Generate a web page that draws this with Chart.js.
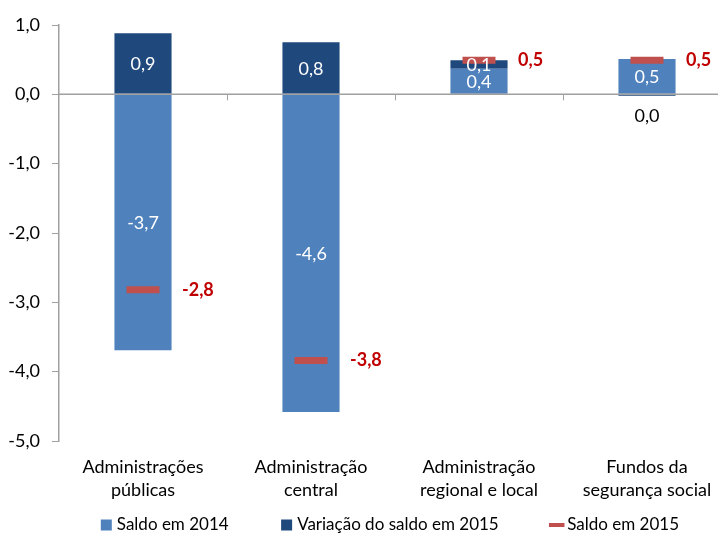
<!DOCTYPE html>
<html>
<head>
<meta charset="utf-8">
<script src="https://cdn.jsdelivr.net/npm/chart.js@4.4.1/dist/chart.umd.min.js"></script>
<style>
  html, body { margin: 0; padding: 0; background: #fff; overflow: hidden; width: 718px; height: 535px; }
  #wrap { position: absolute; left: 0; top: 0; width: 740px; height: 535px; }
</style>
</head>
<body>
<div id="wrap"><canvas id="c"></canvas></div>
<script>
const categories = [
  ["Administrações", "públicas"],
  ["Administração", "central"],
  ["Administração", "regional e local"],
  ["Fundos da", "segurança social"]
];
const saldo2014 = [-3.69, -4.58, 0.37, 0.51];
const variacao2015 = [0.88, 0.75, 0.12, -0.02];
const saldo2015 = [-2.82, -3.84, 0.49, 0.49];
const seriesNames = ["Saldo em 2014", "Variação do saldo em 2015", "Saldo em 2015"];
const yTicks = [1, 0, -1, -2, -3, -4, -5];

const FONT = "Lato, 'Open Sans', sans-serif";
const C_LIGHT = "#4F81BD", C_DARK = "#1F497D", C_RED = "#C0504D", C_AXIS = "#A0A0A0";
const fmt = v => (Math.abs(v) < 0.05 ? 0 : v).toFixed(1).replace(".", ",");

const LEG_PAD = 56, LEG_H = 30, LEG_X0 = 104.3, LEG_CY = 525, LEG_FONT = 17;

const overlay = {
  id: "overlay",
  beforeLayout(chart) {
    const lg = chart.legend;
    if (lg && !lg._patchedFit) {
      const orig = lg.fit.bind(lg);
      lg.fit = function () { orig(); this.height = LEG_H; };
      lg._patchedFit = true;
    }
  },
  afterLayout(chart) {
    const lg = chart.legend;
    if (!lg) return;
    const lw = lg.lineWidths ? lg.lineWidths[0] : 0;
    const cur = (lg.left + LEG_PAD + lg.right - lw) / 2;
    const shift = LEG_X0 - cur;
    lg.left += shift; lg.right += shift;
    lg.top = LEG_CY - LEG_PAD - LEG_FONT / 2;
    lg.bottom = chart.height;
  },
  afterDatasetsDraw(chart) {
    const ctx = chart.ctx, ys = chart.scales.y, ca = chart.chartArea;
    const y0 = ys.getPixelForValue(0);
    ctx.save();
    ctx.strokeStyle = C_AXIS; ctx.lineWidth = 1.5;
    ctx.beginPath(); ctx.moveTo(ca.left, y0); ctx.lineTo(ca.right, y0); ctx.stroke();
    const w = (ca.right - ca.left) / categories.length;
    ctx.lineWidth = 1;
    for (let i = 1; i <= categories.length; i++) {
      const x = Math.round(ca.left + i * w) + 0.5;
      ctx.beginPath(); ctx.moveTo(x, y0); ctx.lineTo(x, y0 + 6); ctx.stroke();
    }
    ctx.font = "18px " + FONT;
    ctx.textAlign = "center"; ctx.textBaseline = "middle";
    [0, 1].forEach(di => {
      const meta = chart.getDatasetMeta(di);
      meta.data.forEach((el, i) => {
        const v = chart.data.datasets[di].data[i];
        if (Math.abs(v) < 0.05) {
          ctx.fillStyle = "#000";
          ctx.fillText(fmt(v), el.x, y0 + 22);
        } else {
          ctx.fillStyle = "#fff";
          ctx.fillText(fmt(v), el.x, (el.y + el.base) / 2 + 1);
        }
      });
    });
    ctx.font = "bold 18px " + FONT;
    ctx.textAlign = "left"; ctx.fillStyle = "#C00000";
    const m = chart.getDatasetMeta(2);
    m.data.forEach((el, i) => {
      ctx.fillText(fmt(saldo2015[i]), el.x + 39, el.y);
    });
    ctx.restore();
  }
};

new Chart(document.getElementById("c"), {
  data: {
    labels: categories,
    datasets: [
      { type: "bar", label: seriesNames[0], data: saldo2014, backgroundColor: C_LIGHT, stack: "s", order: 2 },
      { type: "bar", label: seriesNames[1], data: variacao2015, backgroundColor: C_DARK, stack: "s", order: 2 },
      { type: "line", label: seriesNames[2], data: saldo2015, showLine: false, stack: "m",
        pointStyle: "line", pointRadius: 16.5, pointHoverRadius: 16.5, pointBorderWidth: 7,
        borderColor: C_RED, backgroundColor: C_RED, order: 1 }
    ]
  },
  options: {
    responsive: true,
    maintainAspectRatio: false,
    animation: false,
    events: [],
    layout: { autoPadding: false, padding: { top: 25, bottom: 0, left: 0, right: 9 } },
    datasets: { bar: { categoryPercentage: 1, barPercentage: 0.34 } },
    scales: {
      x: {
        stacked: true,
        grid: { display: false, drawTicks: true, tickLength: 8 },
        border: { display: false },
        ticks: { color: "#000", font: { family: FONT, size: 18, lineHeight: 1.3 }, padding: 6, maxRotation: 0, autoSkip: false },
        afterFit(s) { s.height = 64; s.paddingLeft = 0; s.paddingRight = 0; }
      },
      y: {
        stacked: true,
        min: -5, max: 1,
        afterBuildTicks(s) { s.ticks = yTicks.map(v => ({ value: v })); },
        grid: { drawOnChartArea: false, drawTicks: true, tickLength: 7, color: C_AXIS },
        border: { display: true, color: C_AXIS, width: 1.5 },
        ticks: { color: "#000", font: { family: FONT, size: 18 }, padding: 12, callback: v => fmt(v) },
        afterFit(s) { s.width = 59; s.paddingTop = 0; s.paddingBottom = 0; }
      }
    },
    plugins: {
      tooltip: { enabled: false },
      legend: {
        position: "bottom",
        labels: {
          usePointStyle: true,
          boxWidth: 4,
          boxHeight: 11,
          padding: LEG_PAD,
          color: "#000",
          font: { family: FONT, size: LEG_FONT },
          generateLabels() {
            return [
              { text: seriesNames[0], fillStyle: C_LIGHT, strokeStyle: C_LIGHT, lineWidth: 0, pointStyle: "rect", datasetIndex: 0, hidden: false },
              { text: seriesNames[1], fillStyle: C_DARK, strokeStyle: C_DARK, lineWidth: 0, pointStyle: "rect", datasetIndex: 1, hidden: false },
              { text: seriesNames[2], fillStyle: C_RED, strokeStyle: C_RED, lineWidth: 4, pointStyle: "line", datasetIndex: 2, hidden: false }
            ];
          }
        }
      }
    }
  },
  plugins: [overlay]
});
</script>
</body>
</html>
